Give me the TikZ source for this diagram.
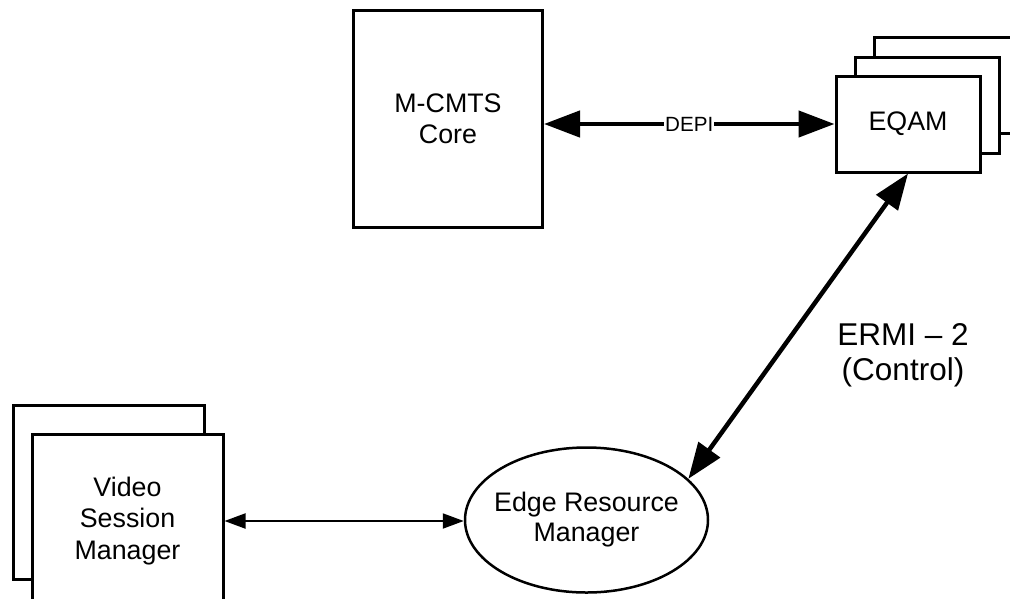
\documentclass[tikz,border=0pt]{standalone}
\usepackage{fontspec}
\setmainfont{Liberation Sans}
\usetikzlibrary{arrows.meta,shapes.geometric}

\tikzset{
  box/.style={draw, line width=3pt, fill=white, inner sep=0pt, align=center,
    font=\fontsize{26.8}{31.5}\selectfont},
  frame/.style={draw, line width=3pt, fill=white},
  bigarrow/.style={line width=4.5pt,
    {Triangle[length=36pt,width=26pt]}-{Triangle[length=36pt,width=26pt]}},
  smallarrow/.style={line width=2pt,
    {Triangle[length=21pt,width=15pt]}-{Triangle[length=21pt,width=15pt]}}
}

\begin{document}
\begin{tikzpicture}[x=1pt,y=-1pt]
  \useasboundingbox (0,0) rectangle (1010,598);
  \clip (0,0) rectangle (1010,598);
  % Stacked copies behind
  \draw[frame] (874,37) rectangle (1020,133);
  \draw[frame] (855,57) rectangle (999,153);
  \draw[frame] (13,405) rectangle (204,579);
  % Boxes and ellipse
  \node[box, minimum width=189pt, minimum height=217pt] (core) at (448,119) {M-CMTS\\Core};
  \node[box, minimum width=144pt, minimum height=96pt] (eqam) at (908,124) {EQAM};
  \node[box, minimum width=191pt, minimum height=174pt] (vsm) at (127.5,521) {Video\\Session\\Manager};
  \node[box, ellipse, line width=2.5pt, inner xsep=-20pt, minimum width=243pt, minimum height=145pt,
    font=\fontsize{26.8}{30}\selectfont] (erm) at (586.5,520) {Edge Resource\\Manager};
  % Links
  \draw[bigarrow] (eqam.west -| core.east) -- (eqam.west)
    node[midway, fill=white, inner sep=1pt, font=\fontsize{20.6}{24}\selectfont] {DEPI};
  \draw[bigarrow] (eqam.south) -- (erm.22.5);
  \draw[smallarrow] (vsm.east) -- (vsm.east -| erm.west);
  \node[align=center, font=\fontsize{31.5}{35}\selectfont] (ermi) at (903,355) {ERMI – 2\\(Control)};
\end{tikzpicture}
\end{document}
